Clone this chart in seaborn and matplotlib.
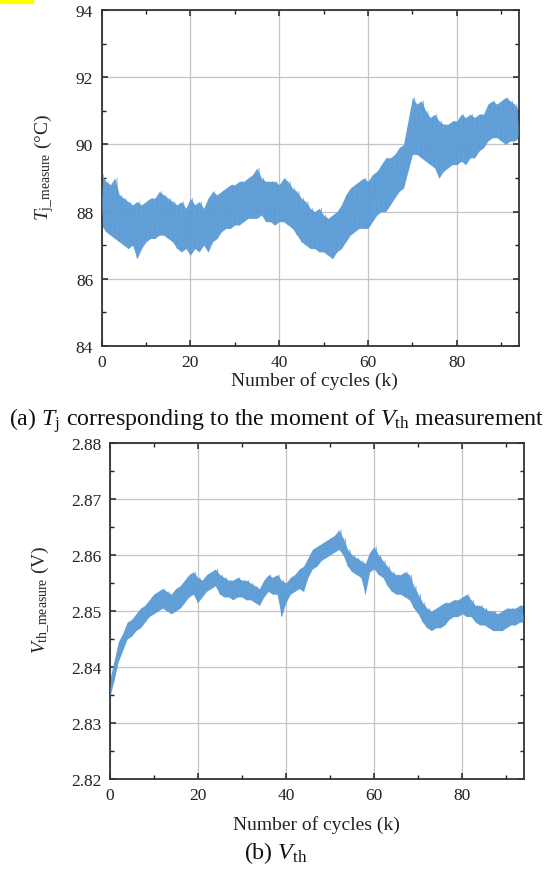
import numpy as np
import pandas as pd
import matplotlib
matplotlib.use("Agg")
import matplotlib.pyplot as plt
from matplotlib.ticker import MultipleLocator, FormatStrFormatter
from matplotlib.patches import Rectangle
import seaborn as sns

# ---------------- data ----------------
cycles_k = list(range(0, 95))  # thousand cycles

# junction temperature at Vth measurement: lower / upper envelope of the noisy trace
tj_low = [87.6, 87.4, 87.3, 87.2, 87.1, 87.0, 86.9, 87.0, 86.6, 86.9,
          87.1, 87.2, 87.2, 87.3, 87.3, 87.2, 87.1, 86.9, 86.8, 86.9,
          86.7, 86.9, 86.8, 87.0, 86.8, 87.1, 87.2, 87.4, 87.5, 87.5,
          87.6, 87.6, 87.7, 87.8, 87.8, 87.8, 87.9, 87.7, 87.7, 87.6,
          87.7, 87.7, 87.6, 87.5, 87.3, 87.1, 87.0, 86.9, 86.9, 86.8,
          86.8, 86.7, 86.6, 86.8, 86.9, 87.1, 87.3, 87.4, 87.5, 87.5,
          87.5, 87.7, 87.9, 88.0, 88.0, 88.2, 88.4, 88.6, 88.7, 89.2,
          89.7, 89.7, 89.6, 89.5, 89.4, 89.3, 89.0, 89.2, 89.3, 89.4,
          89.4, 89.5, 89.4, 89.6, 89.6, 89.8, 89.9, 90.1, 90.2, 90.2,
          90.1, 90.0, 90.1, 90.1, 90.2]
tj_high = [89.1, 88.9, 88.8, 89.0, 88.5, 88.4, 88.3, 88.2, 88.3, 88.2,
           88.3, 88.4, 88.4, 88.6, 88.5, 88.4, 88.3, 88.2, 88.3, 88.1,
           88.4, 88.2, 88.3, 88.1, 88.4, 88.6, 88.5, 88.6, 88.7, 88.8,
           88.8, 88.9, 88.9, 89.0, 89.1, 89.3, 89.0, 88.9, 88.9, 88.9,
           88.8, 89.0, 88.9, 88.7, 88.6, 88.4, 88.3, 88.1, 88.0, 88.1,
           87.9, 87.8, 87.9, 88.0, 88.2, 88.5, 88.7, 88.8, 88.9, 89.0,
           88.9, 89.1, 89.2, 89.4, 89.6, 89.6, 89.7, 89.9, 90.0, 90.7,
           91.4, 91.2, 91.3, 91.0, 90.8, 90.9, 90.7, 90.6, 90.6, 90.7,
           90.7, 90.9, 90.8, 90.9, 90.8, 90.9, 90.9, 91.2, 91.3, 91.2,
           91.3, 91.4, 91.3, 91.2, 91.0]

# threshold voltage measurement: lower / upper envelope
vth_low = [2.8345, 2.8375, 2.8410, 2.8430, 2.8450, 2.8455, 2.8465, 2.8470, 2.8480, 2.8490,
           2.8495, 2.8500, 2.8505, 2.8500, 2.8495, 2.8500, 2.8505, 2.8515, 2.8525, 2.8530,
           2.8515, 2.8525, 2.8535, 2.8540, 2.8545, 2.8530, 2.8525, 2.8525, 2.8520, 2.8525,
           2.8525, 2.8520, 2.8520, 2.8515, 2.8510, 2.8525, 2.8535, 2.8530, 2.8530, 2.8490,
           2.8515, 2.8530, 2.8535, 2.8540, 2.8535, 2.8560, 2.8575, 2.8580, 2.8590, 2.8595,
           2.8600, 2.8605, 2.8610, 2.8600, 2.8580, 2.8570, 2.8565, 2.8560, 2.8530, 2.8570,
           2.8575, 2.8565, 2.8560, 2.8545, 2.8535, 2.8530, 2.8530, 2.8525, 2.8520, 2.8505,
           2.8495, 2.8480, 2.8470, 2.8465, 2.8470, 2.8470, 2.8475, 2.8485, 2.8490, 2.8490,
           2.8495, 2.8490, 2.8490, 2.8480, 2.8475, 2.8475, 2.8470, 2.8465, 2.8465, 2.8465,
           2.8470, 2.8475, 2.8475, 2.8480, 2.8480]
vth_high = [2.8375, 2.8410, 2.8445, 2.8460, 2.8480, 2.8485, 2.8495, 2.8505, 2.8510, 2.8520,
            2.8530, 2.8535, 2.8540, 2.8535, 2.8530, 2.8540, 2.8545, 2.8555, 2.8565, 2.8570,
            2.8560, 2.8555, 2.8565, 2.8570, 2.8575, 2.8565, 2.8560, 2.8555, 2.8555, 2.8560,
            2.8555, 2.8555, 2.8550, 2.8545, 2.8540, 2.8555, 2.8565, 2.8560, 2.8565, 2.8555,
            2.8550, 2.8560, 2.8565, 2.8575, 2.8580, 2.8595, 2.8610, 2.8615, 2.8620, 2.8625,
            2.8630, 2.8635, 2.8645, 2.8630, 2.8610, 2.8600, 2.8595, 2.8590, 2.8585, 2.8605,
            2.8615, 2.8600, 2.8590, 2.8580, 2.8570, 2.8565, 2.8565, 2.8570, 2.8565, 2.8545,
            2.8530, 2.8515, 2.8505, 2.8500, 2.8505, 2.8510, 2.8515, 2.8515, 2.8520, 2.8520,
            2.8525, 2.8530, 2.8520, 2.8510, 2.8510, 2.8505, 2.8500, 2.8500, 2.8495, 2.8500,
            2.8505, 2.8505, 2.8505, 2.8510, 2.8510]

x_ticks = [0, 20, 40, 60, 80]
tj_ticks = [84, 86, 88, 90, 92, 94]
vth_ticks = [2.82, 2.83, 2.84, 2.85, 2.86, 2.87, 2.88]

# ---------------- styling ----------------
sns.set_theme(style="ticks")
plt.rcParams["font.family"] = ["Liberation Serif", "DejaVu Serif"]
plt.rcParams["mathtext.fontset"] = "custom"
plt.rcParams["mathtext.rm"] = "Liberation Serif"
plt.rcParams["mathtext.it"] = "Liberation Serif:italic"
plt.rcParams["mathtext.bf"] = "Liberation Serif:bold"

LINE = "#5b9bd5"
GRID = "#c4c4c4"


def zigzag(xs, lo, hi):
    # alternate between the read lower and upper envelope values
    rows = []
    for xv, a, b in zip(xs, lo, hi):
        rows.append((xv, a))
        rows.append((xv + 0.5, b))
    return pd.DataFrame(rows, columns=["x", "y"])


def style_axis(ax, yticks, ymin_step, fmt):
    ax.set_xlim(0, 94)
    ax.set_ylim(yticks[0], yticks[-1])
    ax.set_xticks(x_ticks)
    ax.set_yticks(yticks)
    ax.xaxis.set_minor_locator(MultipleLocator(10))
    ax.yaxis.set_minor_locator(MultipleLocator(ymin_step))
    ax.yaxis.set_major_formatter(FormatStrFormatter(fmt))
    ax.grid(True, which="major", color=GRID, lw=0.9)
    ax.set_axisbelow(True)
    ax.tick_params(which="both", direction="in", top=True, right=True,
                   labelsize=12.5, colors="#222222", labelcolor="#222222")
    ax.tick_params(which="major", length=4, width=1.1, pad=6)
    ax.tick_params(which="minor", length=3, width=1.0)
    for s in ax.spines.values():
        s.set_color("#333333")
        s.set_linewidth(1.3)
        s.set_visible(True)


def draw_trace(ax, lo, hi):
    ax.fill_between(cycles_k, lo, hi, color=LINE, alpha=0.95, lw=0, zorder=2)
    sns.lineplot(data=zigzag(cycles_k, lo, hi), x="x", y="y", ax=ax,
                 sort=False, estimator=None, color=LINE, lw=0.5, alpha=0.8, zorder=3)


fig = plt.figure(figsize=(5.49, 8.70), dpi=100)

# ---- (a) Tj ----
ax1 = fig.add_axes([101.5 / 549, 1 - 347 / 870, (519 - 101.5) / 549, 336 / 870])
draw_trace(ax1, tj_low, tj_high)
style_axis(ax1, tj_ticks, 1, "%d")
ax1.set_xlabel("")
ax1.set_ylabel(r"$T_{\mathrm{j\_measure}}$ (°C)", fontsize=14)
ax1.yaxis.set_label_coords(-0.108, 0.535)

# ---- (b) Vth ----
ax2 = fig.add_axes([109.5 / 549, 1 - 780 / 870, (524 - 109.5) / 549, 336 / 870])
draw_trace(ax2, vth_low, vth_high)
style_axis(ax2, vth_ticks, 0.005, "%.2f")
ax2.set_xlabel("")
ax2.set_ylabel(r"$V_{\mathrm{th\_measure}}$ (V)", fontsize=14)
ax2.yaxis.set_label_coords(-0.138, 0.535)

# axis titles and captions
fig.text(314 / 549, 1 - 381 / 870, "Number of cycles (k)", ha="center", va="center",
         fontsize=14, color="#222222")
fig.text(277 / 549, 1 - 421 / 870,
         r"(a) $T_{\mathrm{j}}$ corresponding to the moment of $V_{\mathrm{th}}$ measurement",
         ha="center", va="center", fontsize=17.3, color="#111111")
fig.text(316 / 549, 1 - 825 / 870, "Number of cycles (k)", ha="center", va="center",
         fontsize=14, color="#222222")
fig.text(276 / 549, 1 - 853 / 870, r"(b) $V_{\mathrm{th}}$", ha="center", va="center",
         fontsize=17.3, color="#111111")

# small yellow highlight in the top-left corner
fig.patches.append(Rectangle((0, 1 - 4 / 870), 33 / 549, 4 / 870,
                             transform=fig.transFigure, color="#ffff00", zorder=10))

fig.savefig("out.png", dpi=100)
